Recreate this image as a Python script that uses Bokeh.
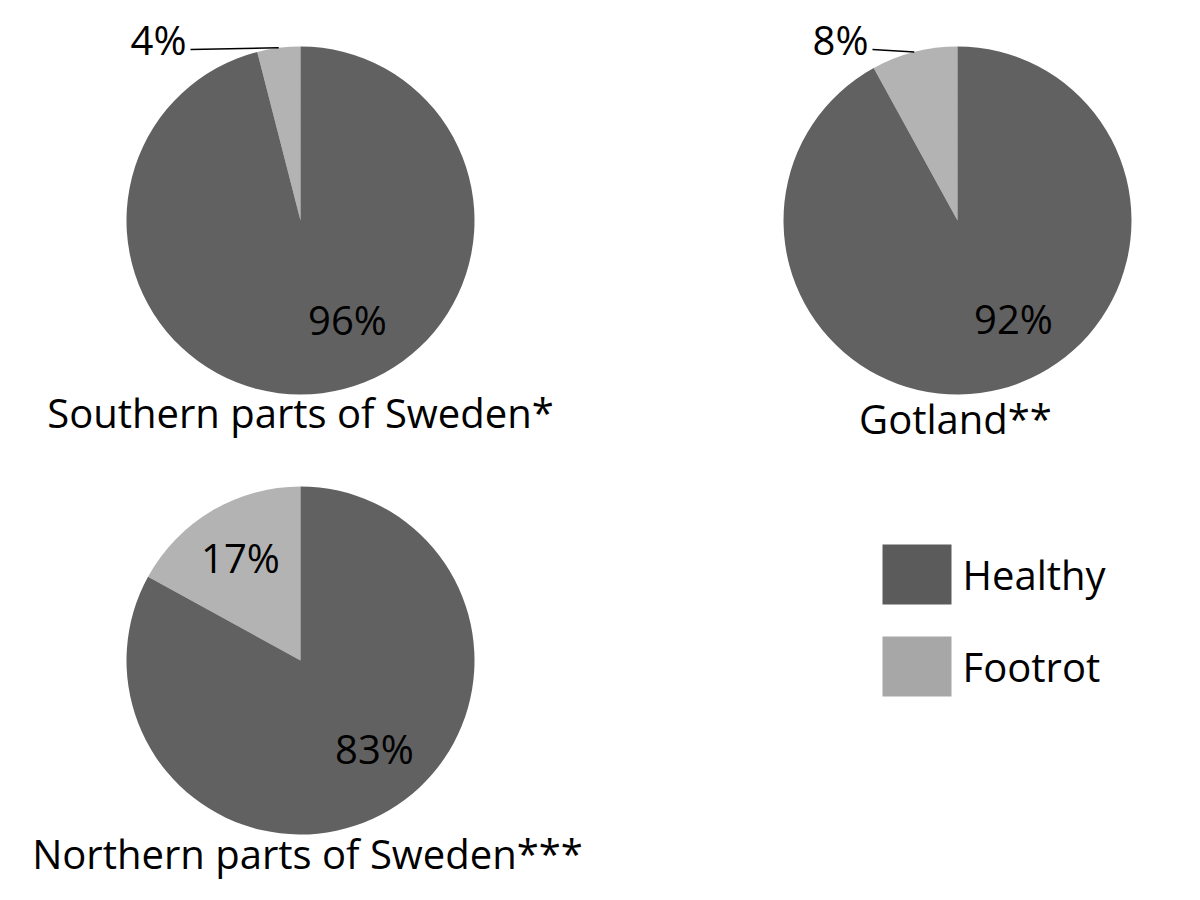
from bokeh.plotting import figure
from bokeh.models import Range1d, ColumnDataSource
from bokeh.core.properties import value
from bokeh.embed import file_html
from bokeh.resources import INLINE
import math

# ---- data ----
regions = ["Southern parts of Sweden*", "Gotland**", "Northern parts of Sweden***"]
categories = ["Healthy", "Footrot"]
healthy_pct = [96, 92, 83]
footrot_pct = [4, 8, 17]

colors = {"Healthy": "#616161", "Footrot": "#b3b3b3"}
legend_colors = {"Healthy": "#5b5b5b", "Footrot": "#a7a7a7"}

FONT = "Open Sans"
FS = "40px"
W, H = 1184, 884

def Y(yref):
    return 900 - yref

p = figure(width=W, height=H, x_range=Range1d(0, W), y_range=Range1d(900 - H, 900),
           output_backend="svg", toolbar_location=None, min_border=0)
p.axis.visible = False
p.grid.visible = False
p.outline_line_color = None
p.background_fill_color = "white"

# layout (reference pixel coords)
centers = [(300, 220), (957, 220), (300, 660)]
R = 174
title_pos = [(300, 412), (955, 418), (307, 853)]
big_label_pos = [(347, 319), (1013, 318), (374, 748)]

def txt(x, y, s, align="center"):
    p.text(x=[x], y=[Y(y)], text=[s], text_font=value(FONT),
           text_font_size=FS, text_align=align, text_baseline="middle",
           text_color="black")

for i in range(3):
    cx, cy = centers[i]
    f = footrot_pct[i] / 100.0
    a0 = math.pi / 2
    a1 = a0 + f * 2 * math.pi
    src = ColumnDataSource(dict(
        x=[cx, cx], y=[Y(cy), Y(cy)],
        start=[a0, a1], end=[a1, a0 + 2 * math.pi],
        color=[colors["Footrot"], colors["Healthy"]],
    ))
    p.wedge(x="x", y="y", radius=R, start_angle="start", end_angle="end",
            fill_color="color", line_color=None, source=src)

    bx, by = big_label_pos[i]
    txt(bx, by, f"{healthy_pct[i]}%")
    tx, ty = title_pos[i]
    txt(tx, ty, regions[i])

# footrot labels: pie 1 & 2 outside with leader lines to the arc midpoint
for i, (lx, ly, lend) in zip([0, 1], [(158, 39, 190), (840, 39, 872)]):
    cx, cy = centers[i]
    f = footrot_pct[i] / 100.0
    mid = math.pi / 2 + f * math.pi
    ex = cx + R * math.cos(mid)
    ey = Y(cy) + R * math.sin(mid)
    p.line(x=[lend, ex], y=[Y(49), ey], line_color="black", line_width=1.5)
    txt(lx, ly, f"{footrot_pct[i]}%")
# pie 3: inside
txt(240, 557, f"{footrot_pct[2]}%")

# legend
leg_rows = [574, 666]
for cat, yc in zip(categories, leg_rows):
    p.quad(left=[882], right=[951], top=[Y(yc - 30)], bottom=[Y(yc + 30)],
           fill_color=legend_colors[cat], line_color=None)
    txt(962, yc, cat, align="left")

open("out.html", "w").write(file_html(p, INLINE))
